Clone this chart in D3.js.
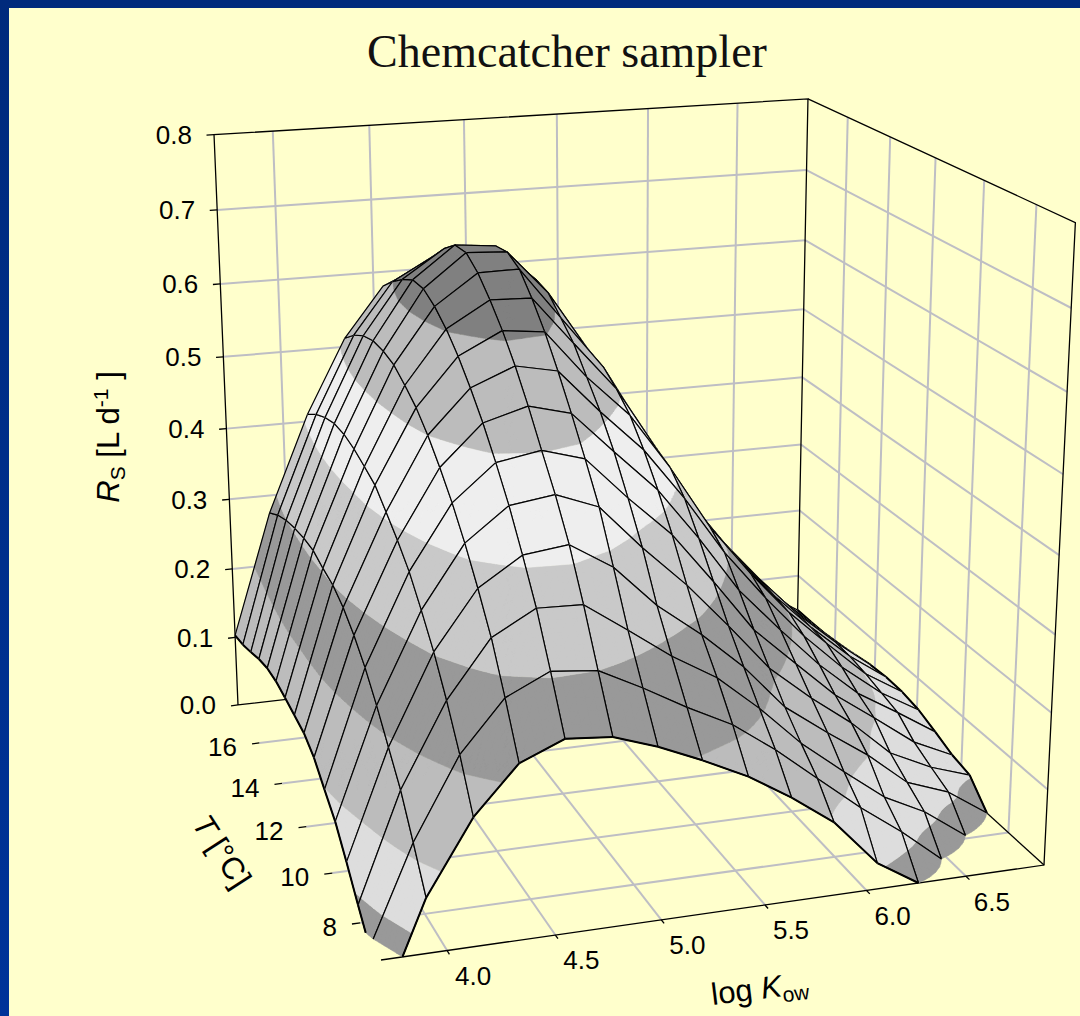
<!DOCTYPE html>
<html lang="en">
<head>
<meta charset="UTF-8">
<title>Chemcatcher sampler</title>
<script src="https://d3js.org/d3.v7.min.js"></script>
<style>
    body { margin: 0; background: #ffffcc; }
    svg { display: block; }
    text { font-family: "Liberation Sans", Arial, sans-serif; fill: #000; }
    #title { font-family: "Liberation Serif", Garamond, serif; fill: #111; }
</style>
</head>
<body>
<svg id="chart" width="1080" height="1016"></svg>
<script>
    // grid of the surface
    const logKow = [3.70, 3.91, 4.13, 4.34, 4.55, 4.77, 4.98, 5.19, 5.41, 5.62, 5.83, 6.05, 6.26, 6.47, 6.69, 6.90];
    const temps = [6.60, 7.36, 8.12, 8.88, 9.64, 10.40, 11.16, 11.92, 12.68, 13.44, 14.20, 14.96, 15.72, 16.48, 17.24, 18.00];

    // one row per temperature, one value per logKow. Below zero gets cut off by the floor
    const rs = [
        [-.06, .07, .162, .221, .244, .239, .22, .196, .168, .134, .095, .034, 0, -.02, -.04, -.055],
        [-.01, .115, .217, .28, .306, .30, .272, .241, .212, .173, .129, .083, .044, 0, -.02, -.035],
        [.019, .158, .263, .334, .364, .362, .324, .285, .251, .205, .153, .108, .067, .04, 0, -.02],
        [.05, .19, .303, .376, .411, .418, .384, .33, .286, .238, .179, .138, .101, .057, .036, 0],
        [.079, .222, .336, .414, .455, .463, .442, .385, .331, .272, .21, .163, .123, .075, .048, .03],
        [.098, .25, .366, .447, .492, .502, .486, .431, .378, .311, .241, .189, .14, .102, .061, .036],
        [.118, .272, .388, .475, .526, .542, .528, .474, .419, .35, .275, .215, .161, .115, .081, .047],
        [.129, .289, .407, .50, .555, .578, .567, .51, .455, .386, .308, .24, .181, .131, .088, .057],
        [.132, .30, .425, .52, .581, .609, .603, .54, .485, .41, .325, .255, .195, .145, .095, .062],
        [.135, .304, .433, .534, .602, .635, .633, .57, .505, .42, .332, .26, .20, .148, .10, .063],
        [.137, .31, .44, .546, .618, .657, .658, .59, .52, .43, .34, .265, .205, .15, .102, .061],
        [.135, .309, .444, .55, .628, .671, .668, .61, .525, .435, .345, .265, .205, .15, .10, .056],
        [.128, .305, .443, .55, .627, .669, .664, .615, .525, .435, .343, .26, .20, .145, .095, .051],
        [.118, .299, .436, .543, .615, .652, .652, .605, .52, .43, .337, .255, .195, .135, .09, .048],
        [.109, .289, .425, .53, .599, .63, .635, .59, .505, .415, .325, .248, .185, .13, .085, .047],
        [.103, .275, .41, .512, .58, .605, .615, .57, .49, .395, .315, .24, .175, .12, .08, .047]
    ];

    const kowTicks = [4.0, 4.5, 5.0, 5.5, 6.0, 6.5];
    const tempTicks = [8, 10, 12, 14, 16];
    const rsTicks = [0, .1, .2, .3, .4, .5, .6, .7, .8];

    // colour bands of the surface
    const bandEdges = [0, .028, .1, .2, .3, .4, .5, .6, .8];
    const bandColors = ["#999999", "#dddddd", "#bcbcbc", "#999999", "#c9c9c9", "#eeeeee", "#bcbcbc", "#808080"];

    const svg = d3.select("#chart");
    const width = 1080, height = 1016;

    // Scales to the unit box
    const uScale = d3.scaleLinear().domain([3.7, 6.9]).range([0, 1]);
    const vScale = d3.scaleLinear().domain([6.6, 18]).range([0, 1]);
    const wScale = d3.scaleLinear().domain([0, .8]).range([0, 1]);

    // Perspective of the box, fitted to its corners in the picture
    const camera = [
        [736.7, -91.3, -44.8, 381],
        [-33.9, -101.9, -704, 960],
        [.0706, .2172, -.0729, 1]
    ];

    function depth(u, v, w) {
        return camera[2][0] * u + camera[2][1] * v + camera[2][2] * w + camera[2][3];
    }

    function projectUnit(u, v, w) {
        const d = depth(u, v, w);
        return [
            (camera[0][0] * u + camera[0][1] * v + camera[0][2] * w + camera[0][3]) / d,
            (camera[1][0] * u + camera[1][1] * v + camera[1][2] * w + camera[1][3]) / d
        ];
    }

    // x = logKow, t = temperature, z = Rs
    function project(x, t, z) {
        return projectUnit(uScale(x), vScale(t), wScale(z));
    }

    const line = d3.line();
    const xMin = uScale.domain()[0], xMax = uScale.domain()[1];
    const tMin = vScale.domain()[0], tMax = vScale.domain()[1];
    const zMax = wScale.domain()[1];

    // Background
    const defs = svg.append("defs");
    const grad = defs.append("linearGradient").attr("id", "frame")
        .attr("x1", 0).attr("y1", 0).attr("x2", 0).attr("y2", 1);
    grad.append("stop").attr("offset", "0%").attr("stop-color", "#002a7c");
    grad.append("stop").attr("offset", "100%").attr("stop-color", "#003399");
    svg.append("rect").attr("width", width).attr("height", height).attr("fill", "url(#frame)");
    svg.append("rect").attr("x", 9).attr("y", 8).attr("width", width - 9).attr("height", height - 8).attr("fill", "#ffffcc");

    // Grid lines on the walls and floor
    const gridLines = [];
    rsTicks.slice(1, -1).forEach(z => {
        gridLines.push([project(xMin, tMax, z), project(xMax, tMax, z)]);
        gridLines.push([project(xMax, tMax, z), project(xMax, tMin, z)]);
    });
    kowTicks.forEach(x => {
        gridLines.push([project(x, tMin, 0), project(x, tMax, 0)]);
        gridLines.push([project(x, tMax, 0), project(x, tMax, zMax)]);
    });
    tempTicks.forEach(t => {
        gridLines.push([project(xMin, t, 0), project(xMax, t, 0)]);
        gridLines.push([project(xMax, t, 0), project(xMax, t, zMax)]);
    });
    svg.append("g").selectAll("path").data(gridLines).join("path")
        .attr("d", line)
        .attr("fill", "none")
        .attr("stroke", "#bebec4")
        .attr("stroke-width", 2);

    // Box outline
    const boxLines = [
        [project(xMin, tMax, 0), project(xMin, tMax, zMax), project(xMax, tMax, zMax), project(xMax, tMax, 0), project(xMin, tMax, 0)],
        [project(xMax, tMax, zMax), project(xMax, tMin, zMax), project(xMax, tMin, 0), project(xMin, tMin, 0)],
        [project(xMax, tMin, 0), project(xMax, tMax, 0)]
    ];
    svg.append("g").selectAll("path").data(boxLines).join("path")
        .attr("d", line)
        .attr("fill", "none")
        .attr("stroke", "#000")
        .attr("stroke-width", 1.3);

    // Ticks
    const tickLen = .038;
    const tickLines = [];
    rsTicks.forEach(z => tickLines.push([project(xMin - tickLen, tMax, z), project(xMin, tMax, z)]));
    tempTicks.forEach(t => tickLines.push([project(xMin - tickLen, t, 0), project(xMin, t, 0)]));
    kowTicks.forEach(x => tickLines.push([project(x, tMin, 0), project(x, tMin - .14, 0)]));
    svg.append("g").selectAll("path").data(tickLines).join("path")
        .attr("d", line)
        .attr("fill", "none")
        .attr("stroke", "#000")
        .attr("stroke-width", 1.3);

    // Surface
    // keep the part of a polygon where the value stays on one side of limit
    function clipPolygon(points, limit, keepAbove) {
        const out = [];
        points.forEach((p, n) => {
            const q = points[(n + 1) % points.length];
            const pIn = keepAbove ? p[2] >= limit : p[2] <= limit;
            const qIn = keepAbove ? q[2] >= limit : q[2] <= limit;
            if (pIn) out.push(p);
            if (pIn !== qIn) {
                const f = (limit - p[2]) / (q[2] - p[2]);
                out.push([p[0] + f * (q[0] - p[0]), p[1] + f * (q[1] - p[1]), limit]);
            }
        });
        return out;
    }

    const subdivisions = 5;
    const cells = [];
    for (let j = 0; j < temps.length - 1; j++) {
        for (let i = 0; i < logKow.length - 1; i++) {
            const u0 = uScale(logKow[i]), u1 = uScale(logKow[i + 1]);
            const v0 = vScale(temps[j]), v1 = vScale(temps[j + 1]);
            const z00 = rs[j][i], z10 = rs[j][i + 1], z01 = rs[j + 1][i], z11 = rs[j + 1][i + 1];
            cells.push({
                i, j, u0, u1, v0, v1, z00, z10, z01, z11,
                depth: depth((u0 + u1) / 2, (v0 + v1) / 2, wScale((z00 + z10 + z01 + z11) / 4))
            });
        }
    }
    // far cells get painted first
    cells.sort((a, b) => b.depth - a.depth);

    function cellPoint(c, s, r) {
        const z = c.z00 * (1 - s) * (1 - r) + c.z10 * s * (1 - r) + c.z01 * (1 - s) * r + c.z11 * s * r;
        return [c.u0 + s * (c.u1 - c.u0), c.v0 + r * (c.v1 - c.v0), z];
    }

    function toPath(poly) {
        return line(poly.map(p => projectUnit(p[0], p[1], wScale(p[2])))) + "Z";
    }

    function edgePath(a, b) {
        // grid line between two corners, stops at the floor
        let p = a, q = b;
        if (p[2] < 0 && q[2] < 0) return "";
        const f = (0 - p[2]) / (q[2] - p[2]);
        const cut = [p[0] + f * (q[0] - p[0]), p[1] + f * (q[1] - p[1]), 0];
        if (p[2] < 0) p = cut;
        if (q[2] < 0) q = cut;
        return line([p, q].map(pt => projectUnit(pt[0], pt[1], wScale(pt[2]))));
    }

    const surface = svg.append("g");
    cells.forEach(c => {
        const g = surface.append("g");
        const paths = bandColors.map(() => "");
        for (let a = 0; a < subdivisions; a++) {
            for (let b = 0; b < subdivisions; b++) {
                const s0 = a / subdivisions, s1 = (a + 1) / subdivisions;
                const r0 = b / subdivisions, r1 = (b + 1) / subdivisions;
                const p00 = cellPoint(c, s0, r0), p10 = cellPoint(c, s1, r0);
                const p01 = cellPoint(c, s0, r1), p11 = cellPoint(c, s1, r1);
                [[p00, p10, p11], [p00, p11, p01]].forEach(tri => {
                    bandColors.forEach((col, k) => {
                        let poly = clipPolygon(tri, bandEdges[k], true);
                        if (poly.length) poly = clipPolygon(poly, bandEdges[k + 1], false);
                        if (poly.length > 2) paths[k] += toPath(poly);
                    });
                });
            }
        }
        paths.forEach((d, k) => {
            if (d) {
                g.append("path").attr("d", d)
                    .attr("fill", bandColors[k])
                    .attr("stroke", bandColors[k])
                    .attr("stroke-width", .5);
            }
        });

        const c00 = cellPoint(c, 0, 0), c10 = cellPoint(c, 1, 0), c01 = cellPoint(c, 0, 1), c11 = cellPoint(c, 1, 1);
        g.append("path")
            .attr("d", [edgePath(c00, c10), edgePath(c10, c11), edgePath(c11, c01), edgePath(c01, c00)].join(""))
            .attr("fill", "none")
            .attr("stroke", "#000")
            .attr("stroke-width", 1.2);
        // outer edges of the surface are heavier
        const outer = [];
        if (c.j === 0) outer.push(edgePath(c00, c10));
        if (c.i === 0) outer.push(edgePath(c01, c00));
        if (c.i === logKow.length - 2) outer.push(edgePath(c10, c11));
        if (outer.length) {
            g.append("path").attr("d", outer.join(""))
                .attr("fill", "none").attr("stroke", "#000").attr("stroke-width", 2);
        }
    });

    // Tick labels
    const fmt = d3.format(".1f");
    svg.append("g").selectAll("text").data(rsTicks).join("text")
        .attr("x", d => project(xMin, tMax, d)[0] - 22)
        .attr("y", d => project(xMin, tMax, d)[1])
        .attr("dy", "0.36em")
        .attr("text-anchor", "end")
        .attr("font-size", 26)
        .text(fmt);
    svg.append("g").selectAll("text").data(tempTicks).join("text")
        .attr("x", d => project(xMin - tickLen, d, 0)[0] - 15)
        .attr("y", d => project(xMin - tickLen, d, 0)[1] + 3)
        .attr("dy", "0.36em")
        .attr("text-anchor", "end")
        .attr("font-size", 26)
        .text(d => d);
    svg.append("g").selectAll("text").data(kowTicks).join("text")
        .attr("x", d => project(d, tMin, 0)[0] + 26)
        .attr("y", d => project(d, tMin, 0)[1] + 25)
        .attr("dy", "0.36em")
        .attr("text-anchor", "middle")
        .attr("font-size", 26)
        .text(fmt);

    // Titles
    svg.append("text").attr("id", "title")
        .attr("x", 567).attr("y", 67)
        .attr("text-anchor", "middle")
        .attr("font-size", 46)
        .text("Chemcatcher sampler");

    const rsTitle = svg.append("text")
        .attr("transform", "translate(119,437) rotate(-90)")
        .attr("text-anchor", "middle")
        .attr("font-size", 31);
    rsTitle.append("tspan").attr("font-style", "italic").text("R");
    rsTitle.append("tspan").attr("font-size", 21).attr("dy", 6).text("S");
    rsTitle.append("tspan").attr("dy", -6).text(" [L d");
    rsTitle.append("tspan").attr("font-size", 21).attr("dy", -11).text("-1");
    rsTitle.append("tspan").attr("dy", 11).text(" ]");

    const tTitle = svg.append("text")
        .attr("transform", "translate(213,857) rotate(57)")
        .attr("text-anchor", "middle")
        .attr("font-size", 31);
    tTitle.append("tspan").attr("font-style", "italic").text("T");
    tTitle.append("tspan").text(" [°C]");

    const kowTitle = svg.append("text")
        .attr("transform", "translate(761,999) rotate(-7)")
        .attr("text-anchor", "middle")
        .attr("font-size", 31);
    kowTitle.append("tspan").text("log ");
    kowTitle.append("tspan").attr("font-style", "italic").text("K");
    kowTitle.append("tspan").attr("font-size", 21).attr("dy", 6).text("ow");
</script>
</body>
</html>
